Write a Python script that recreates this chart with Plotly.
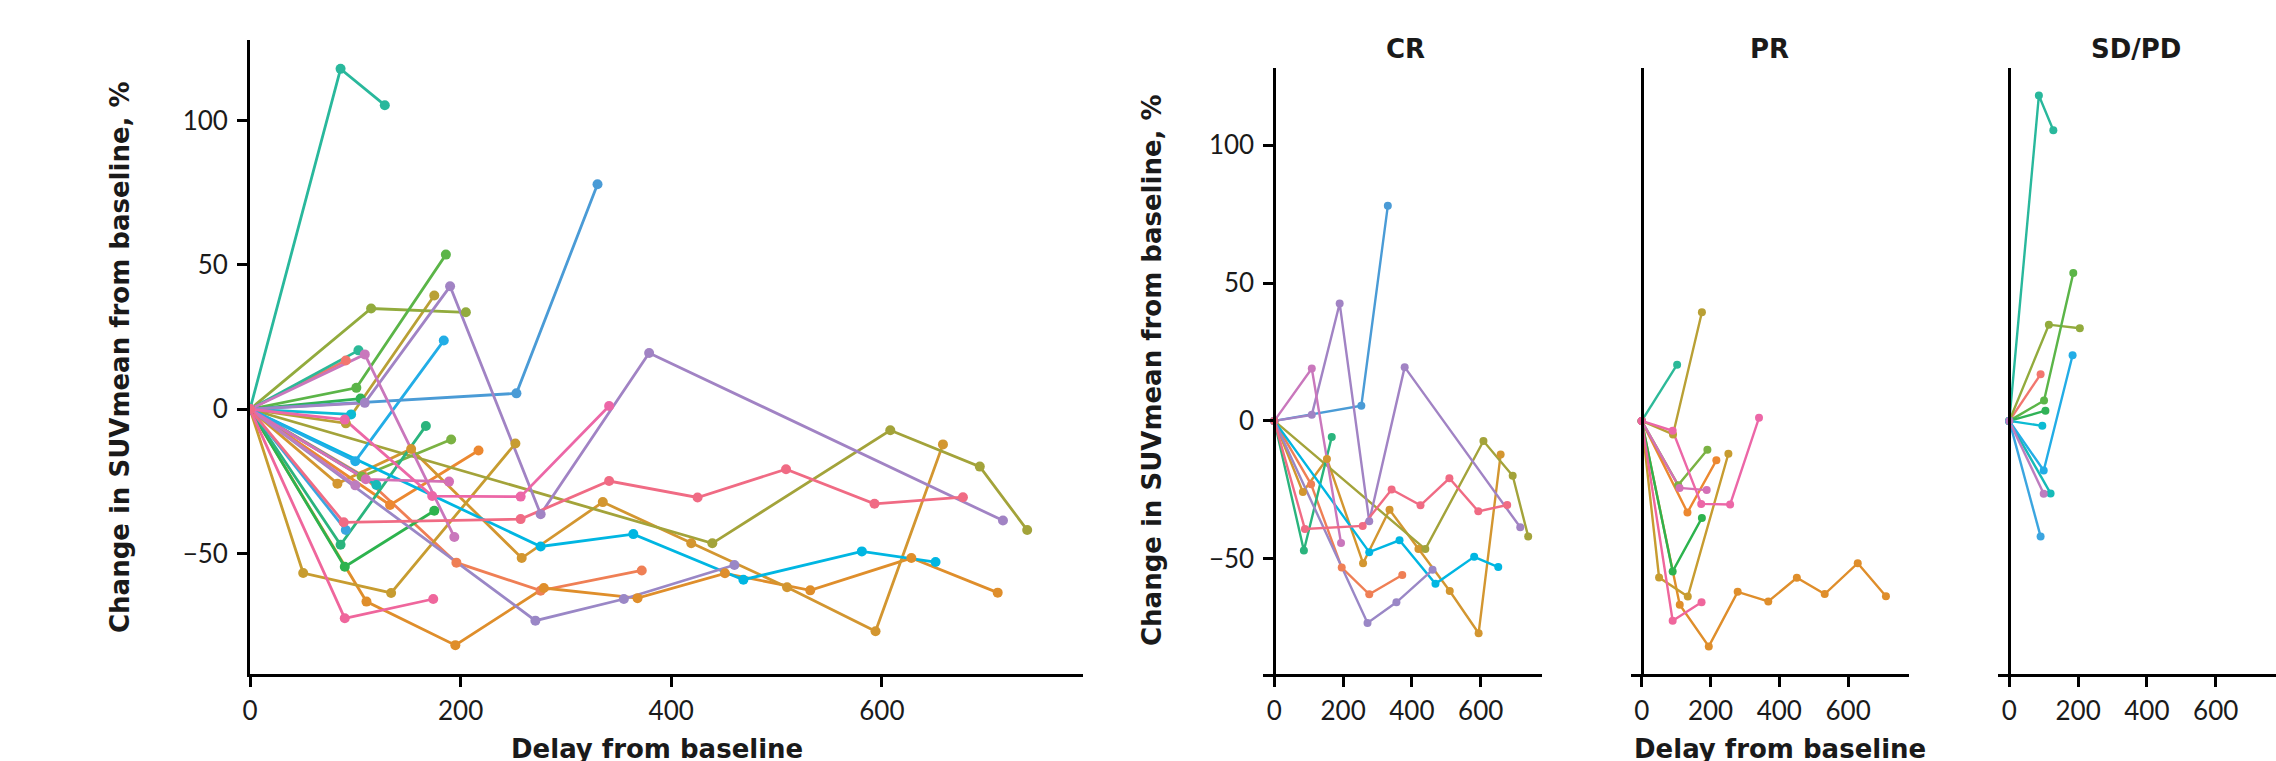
import plotly.graph_objects as go

# ---------------- data (days from baseline, % change in SUVmean) ----------------
# patients ordered as in the colour palette; response group per patient
p01_days = [0, 91];                                   p01_chg = [0, 16.9]
p02_days = [0, 107, 196, 276, 372];                   p02_chg = [0, -23, -53.2, -62.9, -55.9]
p03_days = [0, 133, 217];                             p03_chg = [0, -33.2, -14.3]
p04_days = [0, 110.6, 195, 279, 368, 451, 532, 628, 710]
p04_chg = [0, -66.7, -81.8, -62, -65.5, -56.9, -62.8, -51.6, -63.6]
p05_days = [0, 83, 153, 258, 335, 419, 510, 594, 658]
p05_chg = [0, -25.8, -13.8, -51.6, -32.2, -46.5, -61.7, -77, -12.2]
p06_days = [0, 50.5, 134, 252];                       p06_chg = [0, -56.8, -63.7, -11.9]
p07_days = [0, 91, 175];                              p07_chg = [0, -4.9, 39.4]
p08_days = [0, 439, 608, 693, 738];                   p08_chg = [0, -46.5, -7.3, -19.9, -41.9]
p09_days = [0, 115, 205];                             p09_chg = [0, 34.9, 33.6]
p10_days = [0, 106, 191];                             p10_chg = [0, -23.3, -10.5]
p11_days = [0, 101, 186];                             p11_chg = [0, 7.4, 53.6]
p12_days = [0, 90, 175];                              p12_chg = [0, -54.6, -35.2]
p13_days = [0, 105];                                  p13_chg = [0, 3.7]
p14_days = [0, 86, 167];                              p14_chg = [0, -47, -5.8]
p15_days = [0, 103];                                  p15_chg = [0, 20.4]
p16_days = [0, 86, 128];                              p16_chg = [0, 118, 105.4]
p17_days = [0, 120];                                  p17_chg = [0, -26.3]
p18_days = [0, 96];                                   p18_chg = [0, -1.8]
p19_days = [0, 276, 364, 468.5, 581, 651];            p19_chg = [0, -47.6, -43.3, -59.1, -49.3, -53]
p20_days = [0, 100, 184];                             p20_chg = [0, -18, 23.8]
p21_days = [0, 91];                                   p21_chg = [0, -41.9]
p22_days = [0, 253, 330];                             p22_chg = [0, 5.5, 78]
p23_days = [0, 271, 355, 460];                        p23_chg = [0, -73.3, -65.8, -54]
p24_days = [0, 109, 190, 276, 379, 715];              p24_chg = [0, 2.2, 42.6, -36.4, 19.5, -38.6]
p25_days = [0, 100];                                  p25_chg = [0, -26.4]
p26_days = [0, 109, 194];                             p26_chg = [0, 19, -44.3]
p27_days = [0, 110, 189];                             p27_chg = [0, -24.3, -25.1]
p28_days = [0, 90, 173, 257, 341];                    p28_chg = [0, -3.6, -30.1, -30.3, 1.1]
p29_days = [0, 90, 174];                              p29_chg = [0, -72.5, -65.8]
p30_days = [0, 89, 257, 341, 425, 509, 593, 677]
p30_chg = [0, -39.2, -38.1, -24.9, -30.6, -20.8, -32.8, -30.5]

response = ["SD/PD", "CR", "PR", "PR", "CR", "PR", "PR", "CR", "SD/PD", "PR",
            "SD/PD", "PR", "SD/PD", "CR", "PR", "SD/PD", "SD/PD", "SD/PD", "CR", "SD/PD",
            "SD/PD", "CR", "CR", "CR", "SD/PD", "CR", "PR", "PR", "PR", "CR"]

colors = ["#F2766E", "#EF7F55", "#EC8830", "#DF8E2B", "#D39630", "#C79C30", "#B9A035",
          "#A3A33A", "#92AB3D", "#7BB243", "#5BB548", "#2DB34E", "#30B257", "#2AB47D",
          "#2CB998", "#29B89C", "#16BAB8", "#0CBBD3", "#00B6E2", "#22ADE6", "#3BA5E0",
          "#4A9BD6", "#9A87C6", "#A183C4", "#BD7DBF", "#C977BC", "#D470B6", "#EC67A7",
          "#EF669C", "#F06B84"]

facets = ["CR", "PR", "SD/PD"]
x_ticks = [0, 200, 400, 600]
y_ticks = [-50, 0, 50, 100]

days = [p01_days, p02_days, p03_days, p04_days, p05_days, p06_days, p07_days, p08_days,
        p09_days, p10_days, p11_days, p12_days, p13_days, p14_days, p15_days, p16_days,
        p17_days, p18_days, p19_days, p20_days, p21_days, p22_days, p23_days, p24_days,
        p25_days, p26_days, p27_days, p28_days, p29_days, p30_days]
chg = [p01_chg, p02_chg, p03_chg, p04_chg, p05_chg, p06_chg, p07_chg, p08_chg,
       p09_chg, p10_chg, p11_chg, p12_chg, p13_chg, p14_chg, p15_chg, p16_chg,
       p17_chg, p18_chg, p19_chg, p20_chg, p21_chg, p22_chg, p23_chg, p24_chg,
       p25_chg, p26_chg, p27_chg, p28_chg, p29_chg, p30_chg]

# ---------------- figure ----------------
W, H = 2276, 761
fig = go.Figure()


def add_panel(idx_list, xa, ya, lw, ms):
    for i in idx_list:
        fig.add_trace(go.Scatter(x=days[i], y=chg[i], mode="lines", xaxis=xa, yaxis=ya,
                                 line=dict(color=colors[i], width=lw), hoverinfo="skip",
                                 showlegend=False))
    for i in idx_list:
        fig.add_trace(go.Scatter(x=days[i], y=chg[i], mode="markers", xaxis=xa, yaxis=ya,
                                 marker=dict(color=colors[i], size=ms, line=dict(width=0)),
                                 showlegend=False))


all_idx = list(range(len(days)))
add_panel(all_idx, "x", "y", 2.8, 10)
for k, f in enumerate(facets):
    idx = [i for i in all_idx if response[i] == f]
    add_panel(idx, "x%d" % (k + 2), "y%d" % (k + 2), 2.4, 8)

tick_font = dict(family="Lato", size=26, color="#1a1a1a")
title_font = dict(family="DejaVu Sans", size=26, color="#1a1a1a", weight="bold")

common_x = dict(tickvals=x_ticks, ticktext=[str(v) for v in x_ticks], ticks="outside",
                ticklen=10, tickwidth=2.6, tickcolor="black", showline=True,
                linewidth=2.8, linecolor="black", showgrid=False, zeroline=False,
                tickfont=tick_font, fixedrange=True, automargin=False,
                ticklabelstandoff=2)
common_y = dict(range=[-91.8, 128], showline=True, linewidth=2.8, linecolor="black",
                showgrid=False, zeroline=False, tickfont=tick_font, fixedrange=True,
                automargin=False)

# facet geometry in pixels
fx_range = [-32, 778]
px_per_unit = 0.344
yaxis_px = [1274.3, 1641.7, 2009.3]

layout = dict(width=W, height=H, margin=dict(l=0, r=0, t=0, b=0, pad=0, autoexpand=False),
              paper_bgcolor="white", plot_bgcolor="white", showlegend=False)
layout["xaxis"] = dict(domain=[250 / W, 1083 / W], range=[0, 791], anchor="y", **common_x)
layout["yaxis"] = dict(domain=[(H - 674) / H, (H - 40) / H], anchor="x",
                       tickvals=y_ticks, ticks="outside", ticklen=10, tickwidth=2.6,
                       tickcolor="black", ticklabelstandoff=4, **common_y)
for k in range(3):
    left = yaxis_px[k] - (0 - fx_range[0]) * px_per_unit
    right = min(W, left + (fx_range[1] - fx_range[0]) * px_per_unit)
    rng = [fx_range[0], fx_range[0] + (right - left) / px_per_unit]
    layout["xaxis%d" % (k + 2)] = dict(domain=[left / W, right / W], range=rng,
                                       anchor="y%d" % (k + 2), **common_x)
    ydict = dict(domain=[(H - 674) / H, (H - 68) / H], anchor="free",
                 position=yaxis_px[k] / W, **common_y)
    if k == 0:
        ydict.update(tickvals=y_ticks, ticks="outside", ticklen=10, tickwidth=2.6,
                     tickcolor="black", ticklabelstandoff=4)
    else:
        ydict.update(showticklabels=False, ticks="")
    layout["yaxis%d" % (k + 2)] = ydict

annotations = []
ytitle = "Change in SUVmean from baseline, %"
xtitle = "Delay from baseline"
annotations.append(dict(text=ytitle, x=120 / W, y=(H - 357) / H, xref="paper", yref="paper",
                        showarrow=False, textangle=-90, xanchor="center", yanchor="middle",
                        font=title_font))
annotations.append(dict(text=ytitle, x=1152 / W, y=(H - 370) / H, xref="paper", yref="paper",
                        showarrow=False, textangle=-90, xanchor="center", yanchor="middle",
                        font=title_font))
annotations.append(dict(text=xtitle, x=657 / W, y=(H - 749) / H, xref="paper", yref="paper",
                        showarrow=False, xanchor="center", yanchor="middle", font=title_font))
annotations.append(dict(text=xtitle, x=1780 / W, y=(H - 749) / H, xref="paper", yref="paper",
                        showarrow=False, xanchor="center", yanchor="middle", font=title_font))
strip_x = [1405, 1769, 2136]
for k, f in enumerate(facets):
    annotations.append(dict(text=f, x=strip_x[k] / W, y=(H - 48.5) / H, xref="paper",
                            yref="paper", showarrow=False, xanchor="center", yanchor="middle",
                            font=title_font))
layout["annotations"] = annotations

fig.update_layout(**layout)
fig.write_html("out.html")
